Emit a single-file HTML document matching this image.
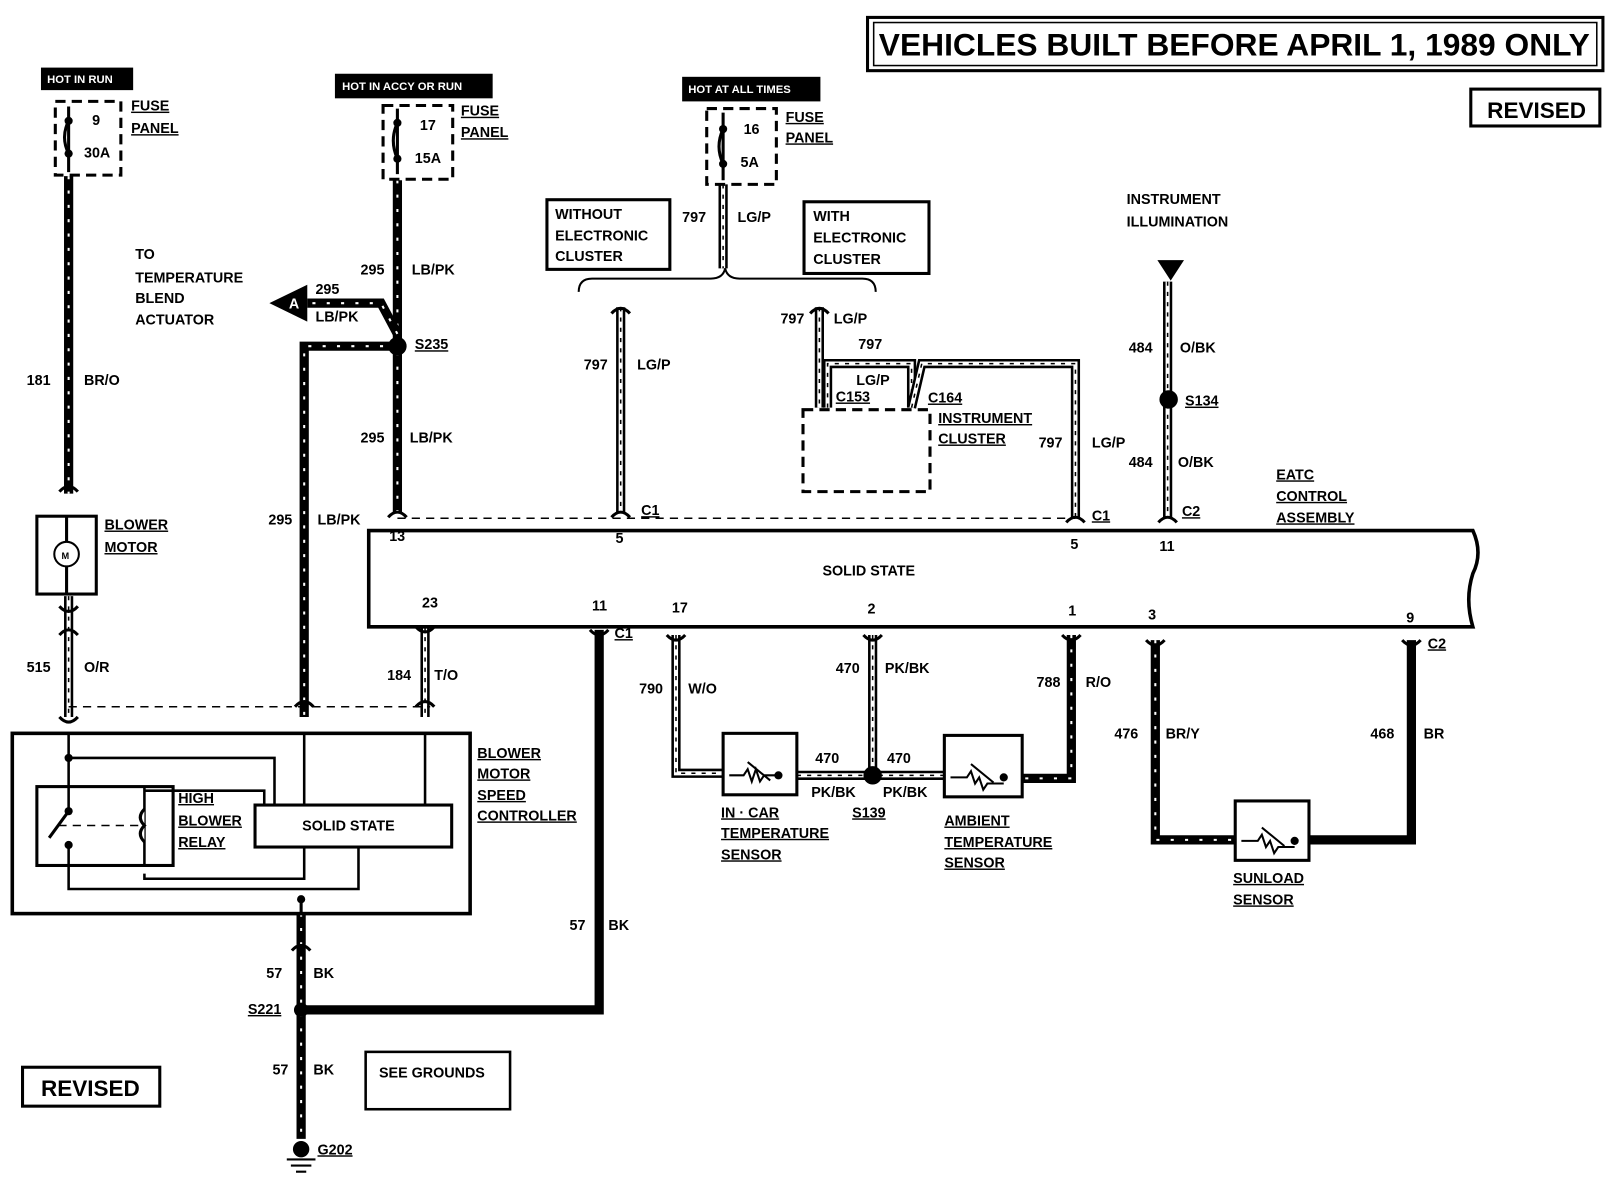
<!DOCTYPE html>
<html><head><meta charset="utf-8"><style>
html,body{margin:0;padding:0;background:#fff}
svg{display:block}
text{font-family:"Liberation Sans",sans-serif;font-weight:bold;font-size:14px;fill:#000}
.u{text-decoration:underline}
.d1{fill:none;stroke:#000;stroke-width:9}
.d2{fill:none;stroke:#fff;stroke-width:2;stroke-dasharray:3 11}
.l2{fill:none;stroke:#fff;stroke-width:4}
.l3{fill:none;stroke:#000;stroke-width:1.5;stroke-dasharray:4 6}
.t{fill:none;stroke:#000;stroke-width:3}
.th{fill:none;stroke:#000;stroke-width:4}
.ds{fill:none;stroke:#000;stroke-width:3;stroke-dasharray:10 6}
.ds2{fill:none;stroke:#000;stroke-width:1.5;stroke-dasharray:8 6}
</style></head><body>
<svg width="1606" height="1184" viewBox="0 0 1568 1156" preserveAspectRatio="none" xmlns="http://www.w3.org/2000/svg">
<defs>
<path id="w181" d="M67 172 V482"/>
<path id="w515" d="M67 582 V700"/>
<path id="w295a" d="M388 176 V500"/>
<path id="w295b" d="M388 338 H297 V700"/>
<path id="w295c" d="M388 326 L372 296 H300"/>
<path id="w57a" d="M294 892 V1112"/>
<path id="w57b" d="M294 986 H585 V615"/>
<path id="w797a" d="M706 180 V262"/>
<path id="w797b" d="M606 300 V500"/>
<path id="w797c" d="M800 300 V398"/>
<path id="w797d" d="M808 398 V355 H890 V398"/>
<path id="w797e" d="M890 398 L900 355 H1050 V505"/>
<path id="w484" d="M1140 275 V505"/>
<path id="w184" d="M415 612 V700"/>
<path id="w790" d="M660 620 V755 H706"/>
<path id="w470" d="M852 620 V757 M778 757 H922"/>
<path id="w788" d="M1046 620 V760 H998"/>
<path id="w476" d="M1128 625 V820 H1206"/>
<path id="w468" d="M1378 625 V820 H1278"/>
</defs>

<g>
<use href="#w181" class="d1"/><use href="#w181" class="d2"/>
<use href="#w515" class="d1"/><use href="#w515" class="l2"/><use href="#w515" class="l3"/>
<use href="#w295a" class="d1"/><use href="#w295a" class="d2"/>
<use href="#w295b" class="d1"/><use href="#w295b" class="d2"/>
<use href="#w295c" class="d1"/><use href="#w295c" class="d2"/>
<use href="#w57a" class="d1"/><use href="#w57a" class="d2"/>
<use href="#w57b" class="d1"/>
<use href="#w797a" class="d1"/><use href="#w797a" class="l2"/><use href="#w797a" class="l3"/>
<use href="#w797b" class="d1"/><use href="#w797b" class="l2"/><use href="#w797b" class="l3"/>
<use href="#w797c" class="d1"/><use href="#w797c" class="l2"/><use href="#w797c" class="l3"/>
<use href="#w797d" class="d1"/><use href="#w797d" class="l2"/><use href="#w797d" class="l3"/>
<use href="#w797e" class="d1"/><use href="#w797e" class="l2"/><use href="#w797e" class="l3"/>
<use href="#w484" class="d1"/><use href="#w484" class="l2"/><use href="#w484" class="l3"/>
<use href="#w184" class="d1"/><use href="#w184" class="l2"/><use href="#w184" class="l3"/>
<use href="#w790" class="d1"/><use href="#w790" class="l2"/><use href="#w790" class="l3"/>
<use href="#w470" class="d1"/><use href="#w470" class="l2"/><use href="#w470" class="l3"/>
<use href="#w788" class="d1"/><use href="#w788" class="d2"/>
<use href="#w476" class="d1"/><use href="#w476" class="d2"/>
<use href="#w468" class="d1"/>
</g>

<rect x="847" y="17" width="718" height="52" fill="#fff" stroke="#000" stroke-width="3"/>
<rect x="853" y="22" width="706" height="42" fill="none" stroke="#000" stroke-width="1.5"/>
<text x="858" y="54" style="font-size:31px">VEHICLES BUILT BEFORE APRIL 1, 1989 ONLY</text>
<rect x="1436" y="87" width="126" height="36" fill="none" stroke="#000" stroke-width="3"/>
<text x="1452" y="115" style="font-size:22px">REVISED</text>
<rect x="22" y="1042" width="134" height="38" fill="none" stroke="#000" stroke-width="3"/>
<text x="40" y="1070" style="font-size:22px">REVISED</text>
<rect x="357" y="1027" width="141" height="56" fill="none" stroke="#000" stroke-width="2.5"/>
<text x="370" y="1052">SEE GROUNDS</text>

<rect x="40" y="66" width="90" height="22" fill="#000"/>
<text x="46" y="81" style="fill:#fff;font-size:11px">HOT IN RUN</text>
<rect x="54" y="99" width="64" height="72" class="ds"/>
<path d="M67 104 V168" class="t"/>
<circle cx="67" cy="118" r="4"/><circle cx="67" cy="150" r="4"/>
<path d="M67 118 q-8 16 0 32" class="t"/>
<text x="90" y="122">9</text><text x="82" y="154">30A</text>
<text x="128" y="108" class="u">FUSE</text><text x="128" y="130" class="u">PANEL</text>
<text x="26" y="376">181</text><text x="82" y="376">BR/O</text>
<text x="132" y="253">TO</text><text x="132" y="276">TEMPERATURE</text>
<text x="132" y="296">BLEND</text><text x="132" y="317">ACTUATOR</text>

<path d="M58 480 q9 -10 18 0 M58 592 q9 10 18 0 M58 700 q9 10 18 0 M58 620 q9 -10 18 0" class="t"/>
<rect x="36" y="504" width="58" height="76" fill="#fff" stroke="#000" stroke-width="3"/>
<circle cx="65" cy="541" r="12" fill="#fff" stroke="#000" stroke-width="2"/>
<text x="60" y="546" style="font-size:9px">M</text>
<path d="M65 504 V529 M65 553 V580" class="t"/>
<text x="102" y="517" class="u">BLOWER</text><text x="102" y="539" class="u">MOTOR</text>
<text x="26" y="656">515</text><text x="82" y="656">O/R</text>

<path d="M67 690 H420" class="ds2"/>
<path d="M288 690 q9 -10 18 0 M406 690 q9 -10 18 0 M406 612 q9 10 18 0" class="t"/>
<rect x="12" y="716" width="447" height="176" fill="none" stroke="#000" stroke-width="3.5"/>
<rect x="36" y="768" width="133" height="77" fill="none" stroke="#000" stroke-width="3"/>
<rect x="249" y="786" width="192" height="41" fill="#fff" stroke="#000" stroke-width="3"/>
<text x="295" y="811">SOLID STATE</text>
<path d="M67 716 V792 M67 825 V868 H350 V827 M67 740 H268 V786 M297 716 V786 M415 716 V786 M141 768 V845 M141 853 V858 H297 V827 M141 772 H258 V786" class="t" style="stroke-width:2.5"/>
<circle cx="67" cy="740" r="4"/><circle cx="67" cy="792" r="4"/><circle cx="67" cy="825" r="4"/><circle cx="294" cy="878" r="4"/>
<path d="M67 792 L48 818" class="t"/>
<path d="M57 806 H138" class="ds2"/>
<path d="M141 790 q-8 8 0 16 q-8 8 0 16" class="t" style="fill:#fff"/>
<text x="174" y="784" class="u">HIGH</text><text x="174" y="806" class="u">BLOWER</text><text x="174" y="827" class="u">RELAY</text>
<text x="466" y="740" class="u">BLOWER</text><text x="466" y="760" class="u">MOTOR</text><text x="466" y="781" class="u">SPEED</text><text x="466" y="801" class="u">CONTROLLER</text>
<path d="M294 878 V892" class="t"/>
<path d="M285 928 q9 -10 18 0" class="t"/>
<text x="260" y="955">57</text><text x="306" y="955">BK</text>
<circle cx="294" cy="986" r="7"/>
<text x="242" y="990" class="u">S221</text>
<text x="266" y="1049">57</text><text x="306" y="1049">BK</text>
<circle cx="294" cy="1122" r="8"/>
<path d="M280 1132 H308 M284 1138 H304 M289 1144 H299" class="t" style="stroke-width:2"/>
<text x="310" y="1127" class="u">G202</text>
<text x="556" y="908">57</text><text x="594" y="908">BK</text>

<rect x="327" y="72" width="154" height="24" fill="#000"/>
<text x="334" y="88" style="fill:#fff;font-size:11px">HOT IN ACCY OR RUN</text>
<rect x="374" y="103" width="68" height="72" class="ds"/>
<circle cx="388" cy="120" r="4"/><circle cx="388" cy="155" r="4"/>
<path d="M388 106 V170 M388 120 q-8 17 0 35" class="t"/>
<text x="410" y="127">17</text><text x="405" y="159">15A</text>
<text x="450" y="113" class="u">FUSE</text><text x="450" y="134" class="u">PANEL</text>
<text x="352" y="268">295</text><text x="402" y="268">LB/PK</text>
<polygon points="263,296 300,278 300,314" fill="#000"/>
<text x="282" y="301" style="fill:#fff">A</text>
<text x="308" y="287">295</text><text x="308" y="314">LB/PK</text>
<circle cx="388" cy="338" r="9"/>
<text x="405" y="341" class="u">S235</text>
<text x="352" y="432">295</text><text x="400" y="432">LB/PK</text>
<text x="262" y="512">295</text><text x="310" y="512">LB/PK</text>

<rect x="666" y="75" width="135" height="24" fill="#000"/>
<text x="672" y="91" style="fill:#fff;font-size:11px">HOT AT ALL TIMES</text>
<rect x="690" y="106" width="68" height="74" class="ds"/>
<circle cx="706" cy="126" r="4"/><circle cx="706" cy="160" r="4"/>
<path d="M706 110 V176 M706 126 q-8 17 0 34" class="t"/>
<text x="726" y="131">16</text><text x="723" y="163">5A</text>
<text x="767" y="119" class="u">FUSE</text><text x="767" y="139" class="u">PANEL</text>
<text x="666" y="217">797</text><text x="720" y="217">LG/P</text>
<rect x="534" y="195" width="120" height="68" fill="none" stroke="#000" stroke-width="3"/>
<text x="542" y="214">WITHOUT</text><text x="542" y="235">ELECTRONIC</text><text x="542" y="255">CLUSTER</text>
<rect x="785" y="197" width="122" height="70" fill="none" stroke="#000" stroke-width="3"/>
<text x="794" y="216">WITH</text><text x="794" y="237">ELECTRONIC</text><text x="794" y="258">CLUSTER</text>
<path d="M565 285 Q565 272 578 272 H694 Q706 272 708 262 Q710 272 722 272 H842 Q855 272 855 285" class="t" style="stroke-width:2"/>
<path d="M597 306 q9 -10 18 0 M791 306 q9 -10 18 0" class="t"/>
<text x="570" y="361">797</text><text x="622" y="361">LG/P</text>
<text x="762" y="316">797</text><text x="814" y="316">LG/P</text>
<text x="838" y="341">797</text>
<text x="836" y="376">LG/P</text>
<rect x="784" y="400" width="124" height="80" class="ds"/>
<text x="816" y="392" class="u">C153</text><text x="906" y="393" class="u">C164</text>
<text x="916" y="413" class="u">INSTRUMENT</text><text x="916" y="433" class="u">CLUSTER</text>
<text x="1014" y="437">797</text><text x="1066" y="437">LG/P</text>

<text x="1100" y="199">INSTRUMENT</text><text x="1100" y="221">ILLUMINATION</text>
<polygon points="1130,254 1156,254 1143,274" fill="#000"/>
<text x="1102" y="344">484</text><text x="1152" y="344">O/BK</text>
<circle cx="1141" cy="390" r="9"/>
<text x="1157" y="396" class="u">S134</text>
<text x="1102" y="456">484</text><text x="1150" y="456">O/BK</text>
<text x="1246" y="468" class="u">EATC</text><text x="1246" y="489" class="u">CONTROL</text><text x="1246" y="510" class="u">ASSEMBLY</text>

<path d="M360 518 H1438 Q1448 540 1438 560 Q1430 585 1438 612 H360 Z" fill="#fff" stroke="#000" stroke-width="3.5"/>
<path d="M388 506 H1050" class="ds2"/>
<path d="M379 505 q9 -10 18 0 M597 505 q9 -10 18 0 M1041 510 q9 -10 18 0 M1131 510 q9 -10 18 0" class="t"/>
<text x="380" y="528">13</text><text x="601" y="530">5</text><text x="1045" y="536">5</text><text x="1132" y="538">11</text>
<text x="626" y="503" class="u">C1</text><text x="1066" y="508" class="u">C1</text><text x="1154" y="504" class="u">C2</text>
<text x="803" y="562">SOLID STATE</text>
<text x="412" y="593">23</text><text x="578" y="596">11</text><text x="656" y="598">17</text><text x="847" y="599">2</text><text x="1043" y="601">1</text><text x="1121" y="605">3</text><text x="1373" y="608">9</text>
<path d="M415 612 H1380" class="ds2"/>
<path d="M576 615 q9 10 18 0 M651 620 q9 10 18 0 M843 620 q9 10 18 0 M1037 620 q9 10 18 0 M1119 625 q9 10 18 0 M1369 625 q9 10 18 0" class="t"/>
<text x="600" y="623" class="u">C1</text><text x="1394" y="633" class="u">C2</text>
<text x="378" y="664">184</text><text x="424" y="664">T/O</text>

<text x="624" y="677">790</text><text x="672" y="677">W/O</text>
<text x="816" y="657">470</text><text x="864" y="657">PK/BK</text>
<text x="1012" y="671">788</text><text x="1060" y="671">R/O</text>
<text x="1088" y="721">476</text><text x="1138" y="721">BR/Y</text>
<text x="1338" y="721">468</text><text x="1390" y="721">BR</text>
<rect x="706" y="716" width="72" height="60" fill="#fff" stroke="#000" stroke-width="3"/>
<rect x="922" y="718" width="76" height="60" fill="#fff" stroke="#000" stroke-width="3"/>
<rect x="1206" y="782" width="72" height="58" fill="#fff" stroke="#000" stroke-width="3"/>
<g class="t" style="stroke-width:2">
<path d="M712 757 H726 l4 -6 4 12 4 -12 4 12 4 -6 H760 M730 744 L752 762"/>
<path d="M928 759 H944 l4 -6 4 12 4 -6 4 12 4 -6 H980 M948 746 L970 764"/>
<path d="M1212 821 H1228 l4 -6 4 12 4 -6 4 12 4 -6 H1264 M1232 808 L1254 826"/>
</g>
<circle cx="760" cy="757" r="4"/><circle cx="980" cy="759" r="4"/><circle cx="1264" cy="821" r="4"/>
<circle cx="852" cy="757" r="9"/>
<text x="796" y="745">470</text><text x="866" y="745">470</text>
<text x="792" y="778">PK/BK</text><text x="862" y="778">PK/BK</text>
<text x="832" y="798" class="u">S139</text>
<text x="704" y="798" class="u">IN · CAR</text><text x="704" y="818" class="u">TEMPERATURE</text><text x="704" y="839" class="u">SENSOR</text>
<text x="922" y="806" class="u">AMBIENT</text><text x="922" y="827" class="u">TEMPERATURE</text><text x="922" y="847" class="u">SENSOR</text>
<text x="1204" y="862" class="u">SUNLOAD</text><text x="1204" y="883" class="u">SENSOR</text>
</svg>
</body></html>
